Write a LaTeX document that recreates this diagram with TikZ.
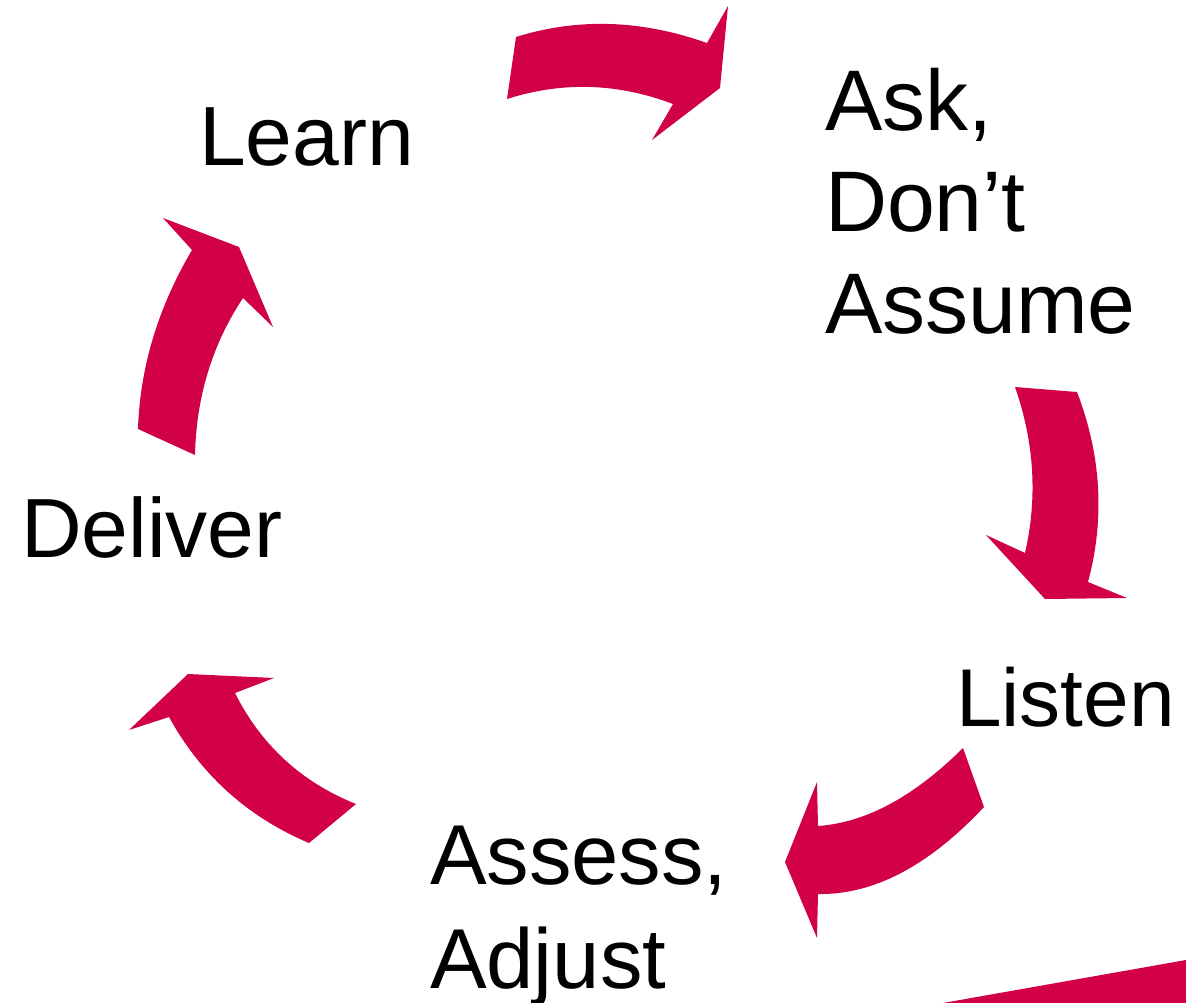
\documentclass[tikz,border=0pt]{standalone}
\usepackage{fontspec}
\setmainfont{Liberation Sans}
\definecolor{cyclered}{RGB}{210,0,70}
\begin{document}
\begin{tikzpicture}[x=1pt,y=-1pt,
  arrowshape/.style={fill=cyclered,draw=none},
  label/.style={inner sep=0pt,outer sep=0pt,anchor=base west,align=left,text=black}]
\useasboundingbox[fill=white] (0,0) rectangle (1186,1003);

% curved arrows around the cycle
\path[arrowshape] (516,37) .. controls (577.7,17.7) and (641.3,19.7) .. (707,43)
  -- (728,6) -- (720,88) -- (652,140) -- (673,104)
  .. controls (617.7,83) and (562.3,81.3) .. (507,99) -- cycle;

\path[arrowshape] (1015,387) -- (1077,392)
  .. controls (1101.3,455.3) and (1105,518.7) .. (1088,582)
  -- (1127,598) -- (1045,599) -- (986,535) -- (1025,553)
  .. controls (1037.7,497.7) and (1034.3,442.3) .. (1015,387) -- cycle;

\path[arrowshape] (963,748) .. controls (914,796.7) and (865.7,822.7) .. (818,826)
  -- (817,782) -- (785,862) -- (817,938) -- (818,894)
  .. controls (873.3,895) and (928.7,866) .. (984,807) -- cycle;

\path[arrowshape] (356,804) -- (309,843)
  .. controls (247.7,817) and (201,775) .. (169,717)
  -- (129,730) -- (188,674) -- (274,678) -- (235,693)
  .. controls (261.3,745.3) and (301.7,782.3) .. (356,804) -- cycle;

\path[arrowshape] (195,455) -- (138,429)
  .. controls (140,367.3) and (158,307.7) .. (192,250)
  -- (163,218) -- (239,247) -- (273,327) -- (243,298)
  .. controls (212.3,344.3) and (196.3,396.7) .. (195,455) -- cycle;

% corner wedge
\path[arrowshape] (943,1003) -- (1186,960) -- (1186,1003) -- cycle;

% step labels (base anchor sits on the last line)
\node[label,font=\fontsize{84}{100}\selectfont] (learn) at (199,166) {Learn};
\node[label,font=\fontsize{86}{101.5}\selectfont] (ask) at (825,333) {Ask,\\Don’t\\Assume};
\node[label,font=\fontsize{84}{100}\selectfont] (deliver) at (21,557) {Deliver};
\node[label,font=\fontsize{82}{98}\selectfont] (listen) at (956,726) {Listen};
\node[label,font=\fontsize{85}{104}\selectfont] (assess) at (430,988) {Assess,\\Adjust};
\end{tikzpicture}
\end{document}
